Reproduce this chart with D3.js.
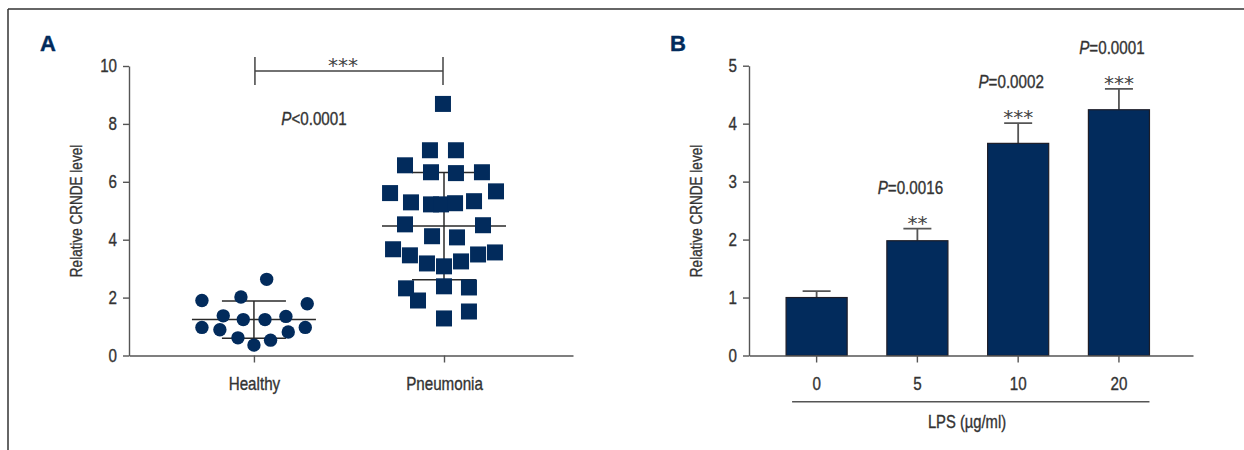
<!DOCTYPE html>
<html>
<head>
<meta charset="utf-8">
<script src="https://cdn.jsdelivr.net/npm/d3@7"></script>
<style>
  body { margin: 0; background: #fff; }
  svg text { font-family: "Liberation Sans", Arial, sans-serif; fill: #333; stroke: #333; stroke-width: 0.35px; }
  .axis path, .axis line { stroke: #555; stroke-width: 1.4; }
  .axis text { font-size: 18.5px; fill: #333; }
  .stars { font-family: "DejaVu Sans", sans-serif !important; font-size: 20px; fill: #444 !important; stroke: none !important; }
</style>
</head>
<body>
<svg id="chart" width="1244" height="450"></svg>
<script>
// panel A: scatter, Healthy vs Pneumonia
const groups = ["Healthy", "Pneumonia"];
const healthy = [2.63, 1.90, 2.02, 1.79, 1.37, 1.24, 1.24, 1.35, 0.97, 0.89, 0.97, 0.81, 0.61, 0.53, 0.36];
const healthyJitter = [0.98, -4, -1, 4.1, -2.36, -0.82, 0.85, 2.46, -4, -2.62, 3.95, 2.64, -1.23, 1.28, 0];
const pneumonia = [8.69, 7.09, 7.09, 6.57, 6.33, 6.30, 6.33, 5.61, 5.67, 5.29, 5.22, 5.22, 5.26, 5.33,
                   4.53, 4.50, 4.12, 4.08, 3.67, 3.46, 3.18, 3.08, 3.25, 3.49, 3.56, 2.32, 2.39, 2.35,
                   1.90, 1.52, 1.28];
const pneumoniaJitter = [-0.08, -1.08, 0.92, -3, -1, 0.92, 2.92, -4.15, 4, -2.54, -1, -0.23, 0.85, 2.31,
                         -3, 3, -0.92, 1, -3.92, -2.62, -1.31, 0, 1.31, 2.62, 3.92, -2.92, 0, 1.92,
                         -2, 1.92, 0];
const groupMean = [1.24, 4.47];
const groupSD = [0.645, 1.85];
const yTicksA = [0, 2, 4, 6, 8, 10];
const bracketLevel = 9.83;

// panel B: bars, LPS dose
const doses = ["0", "5", "10", "20"];
const doseMean = [1.0, 1.98, 3.66, 4.24];
const doseErr = [0.11, 0.21, 0.35, 0.36];
const doseP = [null, "0.0016", "0.0002", "0.0001"];
const doseStars = ["", "**", "***", "***"];
const yTicksB = [0, 1, 2, 3, 4, 5];

const navy = "#022b5c";
const NARROW = 0.82; // no condensed face installed, squeeze Liberation Sans instead
const svg = d3.select("#chart");

// squeeze text horizontally so it reads like the condensed original
function condense(sel) {
    sel.each(function() {
        const w = this.getComputedTextLength();
        if (w > 0) {
            d3.select(this)
                .attr("textLength", w * NARROW)
                .attr("lengthAdjust", "spacingAndGlyphs");
        }
    });
}

// frame
svg.append("line").attr("x1", 8).attr("x2", 1244).attr("y1", 9).attr("y2", 9)
    .attr("stroke", "#333").attr("stroke-width", 1.5);
svg.append("line").attr("x1", 8).attr("x2", 8).attr("y1", 9).attr("y2", 450)
    .attr("stroke", "#333").attr("stroke-width", 1.5);

function panelLetter(x, txt) {
    svg.append("text")
        .attr("x", x).attr("y", 51)
        .style("font-weight", "bold")
        .style("font-size", "22px")
        .style("fill", navy)
        .style("stroke", navy)
        .style("stroke-width", "0.4px")
        .text(txt);
}

function yTitle(x, yMid) {
    svg.append("text")
        .attr("transform", `translate(${x},${yMid}) rotate(-90)`)
        .attr("text-anchor", "middle")
        .style("font-size", "16.5px")
        .text("Relative CRNDE level")
        .call(condense);
}

function pText(g, x, y, rel, val) {
    const t = g.append("text").attr("x", x).attr("y", y)
        .attr("text-anchor", "middle").style("font-size", "18.5px");
    t.append("tspan").style("font-style", "italic").text("P");
    t.append("tspan").text(rel + val);
    t.call(condense);
}

// ---------- A ----------
const xA = d3.scalePoint().domain(groups).range([129, 573]).padding(0.668).align(0.492);
const yA = d3.scaleLinear().domain([0, 10]).range([355.5, 66]);
const jitter = d3.scaleLinear().domain([-1, 1]).range([-13, 13]);

panelLetter(40, "A");
yTitle(82, 211);

const gA = svg.append("g");

gA.append("g").attr("class", "axis")
    .attr("transform", "translate(129,0)")
    .call(d3.axisLeft(yA).tickValues(yTicksA).tickFormat(d3.format("d")).tickSize(6).tickPadding(6).tickSizeOuter(0));
gA.append("g").attr("class", "axis")
    .attr("transform", "translate(0,355.5)")
    .call(d3.axisBottom(xA).tickSize(7).tickPadding(14).tickSizeOuter(0));
gA.selectAll(".axis text").call(condense);

// mean +- SD
const errA = gA.append("g").attr("stroke", "#2a2a2a").attr("stroke-width", 1.5);
groups.forEach((g, i) => {
    const cx = xA(g);
    const m = groupMean[i], s = groupSD[i];
    errA.append("line").attr("x1", cx - 62).attr("x2", cx + 62).attr("y1", yA(m)).attr("y2", yA(m));
    errA.append("line").attr("x1", cx - 32).attr("x2", cx + 32).attr("y1", yA(m + s)).attr("y2", yA(m + s));
    errA.append("line").attr("x1", cx - 32).attr("x2", cx + 32).attr("y1", yA(m - s)).attr("y2", yA(m - s));
    errA.append("line").attr("x1", cx).attr("x2", cx).attr("y1", yA(m + s)).attr("y2", yA(m - s));
});

gA.selectAll(".dot")
    .data(healthy.map((v, i) => ({ v, j: healthyJitter[i] })))
    .enter().append("circle")
    .attr("cx", d => xA("Healthy") + jitter(d.j))
    .attr("cy", d => yA(d.v))
    .attr("r", 6.7)
    .attr("fill", navy);

gA.selectAll(".sq")
    .data(pneumonia.map((v, i) => ({ v, j: pneumoniaJitter[i] })))
    .enter().append("rect")
    .attr("x", d => xA("Pneumonia") + jitter(d.j) - 8)
    .attr("y", d => yA(d.v) - 8)
    .attr("width", 16).attr("height", 16)
    .attr("fill", navy);

// significance bracket
const bx1 = xA("Healthy") + 1, bx2 = xA("Pneumonia") - 1, by = yA(bracketLevel);
gA.append("path")
    .attr("d", `M${bx1},${by - 14}V${by + 14}M${bx1},${by}H${bx2}M${bx2},${by - 14}V${by + 14}`)
    .attr("fill", "none").attr("stroke", "#444").attr("stroke-width", 1.5);
gA.append("text").attr("class", "stars")
    .attr("x", (bx1 + bx2) / 2 - 6).attr("y", by + 1)
    .attr("text-anchor", "middle").text("***");
pText(gA, 314, 125, "<", "0.0001");

// ---------- B ----------
const xB = d3.scaleBand().domain(doses).range([749, 1193]).paddingInner(0.394).paddingOuter(0.4).align(0.46);
const yB = d3.scaleLinear().domain([0, 5]).range([355.5, 65.7]);

panelLetter(670, "B");
yTitle(702, 211);

const gB = svg.append("g");

// error whiskers (behind bars)
doses.forEach((d, i) => {
    const cx = xB(d) + xB.bandwidth() / 2;
    const top = yB(doseMean[i] + doseErr[i]);
    gB.append("path")
        .attr("d", `M${cx},${yB(doseMean[i])}V${top}M${cx - 14},${top}H${cx + 14}`)
        .attr("fill", "none").attr("stroke", "#555").attr("stroke-width", 1.8);
});

gB.selectAll(".bar")
    .data(doses.map((d, i) => ({ d, v: doseMean[i] })))
    .enter().append("rect")
    .attr("x", d => xB(d.d))
    .attr("y", d => yB(d.v))
    .attr("width", xB.bandwidth())
    .attr("height", d => yB(0) - yB(d.v))
    .attr("fill", navy)
    .attr("stroke", "#1d1d28")
    .attr("stroke-width", 1.2);

gB.append("g").attr("class", "axis")
    .attr("transform", "translate(749,0)")
    .call(d3.axisLeft(yB).tickValues(yTicksB).tickFormat(d3.format("d")).tickSize(6).tickPadding(6).tickSizeOuter(0));
gB.append("g").attr("class", "axis")
    .attr("transform", "translate(0,355.5)")
    .call(d3.axisBottom(xB).tickSize(7).tickPadding(14).tickSizeOuter(0));
gB.selectAll(".axis text").call(condense);

// significance labels
doses.forEach((d, i) => {
    if (!doseP[i]) return;
    const cx = xB(d) + xB.bandwidth() / 2;
    const top = yB(doseMean[i] + doseErr[i]);
    gB.append("text").attr("class", "stars")
        .attr("x", cx).attr("y", top + 1)
        .attr("text-anchor", "middle").text(doseStars[i]);
    pText(gB, cx - 7, top - 35, "=", doseP[i]);
});

// LPS group line + label
const lx1 = xB("0") + 6, lx2 = xB("20") + xB.bandwidth();
gB.append("line").attr("x1", lx1).attr("x2", lx2).attr("y1", 401.7).attr("y2", 401.7)
    .attr("stroke", "#555").attr("stroke-width", 1.4);
gB.append("text").attr("x", 967).attr("y", 428)
    .attr("text-anchor", "middle").style("font-size", "18px")
    .text("LPS (µg/ml)")
    .call(condense);
</script>
</body>
</html>
